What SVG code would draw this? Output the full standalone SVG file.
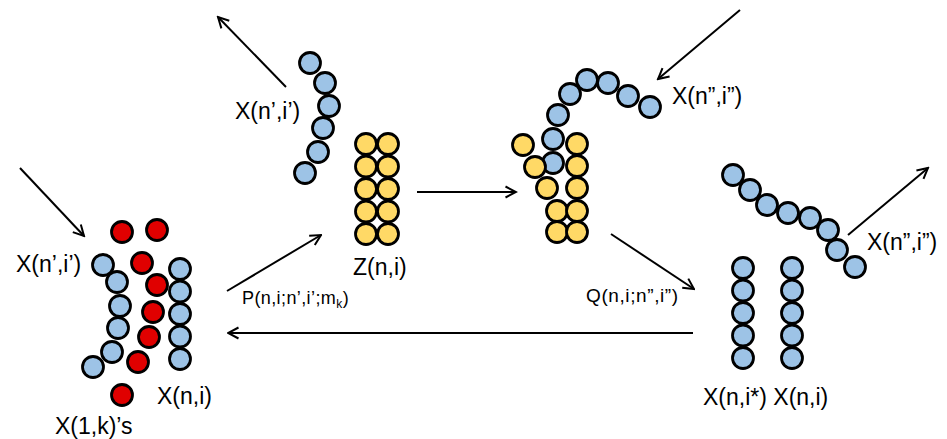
<svg xmlns="http://www.w3.org/2000/svg" width="947" height="439" viewBox="0 0 947 439">
<style>
.b{fill:#9DC3E6;stroke:#000;stroke-width:2.8}
.r{fill:#E00000;stroke:#000;stroke-width:2.8}
.y{fill:#FFD966;stroke:#000;stroke-width:2.8}
.t{font-family:"Liberation Sans",Arial,sans-serif;font-size:23px;fill:#000}
.s{font-family:"Liberation Sans",Arial,sans-serif;font-size:18px;fill:#000;letter-spacing:0.4px}
.c{stroke:#000;stroke-width:2;fill:none;marker-end:url(#ah)}
</style>
<defs>
<marker id="ah" markerUnits="userSpaceOnUse" viewBox="0 0 14 14" refX="12.5" refY="7" markerWidth="14" markerHeight="14" orient="auto">
<path d="M2,1.5 L12.5,7 L2,12.5" fill="none" stroke="#000" stroke-width="2"/>
</marker>
</defs>
<rect width="947" height="439" fill="#fff"/>
<g id="connectors">
<line class="c" x1="20" y1="168" x2="84" y2="236"/>
<line class="c" x1="286" y1="87" x2="218" y2="17"/>
<line class="c" x1="227" y1="291" x2="321" y2="235"/>
<line class="c" x1="417" y1="192" x2="516" y2="192"/>
<line class="c" x1="740" y1="10" x2="658" y2="79"/>
<line class="c" x1="611" y1="234" x2="694" y2="289"/>
<line class="c" x1="848" y1="235" x2="928" y2="168"/>
<line class="c" x1="693" y1="333" x2="228" y2="333"/>
</g>
<g id="node-left">
<circle class="r" cx="122" cy="232" r="10.5"/>
<circle class="r" cx="157" cy="230" r="10.5"/>
<circle class="r" cx="142" cy="263" r="10.5"/>
<circle class="r" cx="157" cy="285" r="10.5"/>
<circle class="r" cx="153" cy="312" r="10.5"/>
<circle class="r" cx="149" cy="337" r="10.5"/>
<circle class="r" cx="138" cy="362" r="10.5"/>
<circle class="r" cx="122" cy="395" r="10.5"/>
<circle class="b" cx="93" cy="367" r="10.5"/>
<circle class="b" cx="112" cy="352" r="10.5"/>
<circle class="b" cx="118" cy="328" r="10.5"/>
<circle class="b" cx="120" cy="306" r="10.5"/>
<circle class="b" cx="117" cy="282" r="10.5"/>
<circle class="b" cx="103" cy="265" r="10.5"/>
<circle class="b" cx="180" cy="269" r="10.5"/>
<circle class="b" cx="180" cy="291.5" r="10.5"/>
<circle class="b" cx="180" cy="314" r="10.5"/>
<circle class="b" cx="180" cy="336.5" r="10.5"/>
<circle class="b" cx="180" cy="359" r="10.5"/>
<text class="t" x="16" y="272">X(n’,i’)</text>
<text class="t" x="157" y="404">X(n,i)</text>
<text class="t" x="55" y="434">X(1,k)’s</text>
<text class="s" x="242" y="304">P(n,i;n’,i’;m<tspan font-size="12" dy="4">k</tspan><tspan dy="-4">)</tspan></text>
</g>
<g id="node-top-left">
<circle class="b" cx="305" cy="173" r="10.5"/>
<circle class="b" cx="318" cy="152" r="10.5"/>
<circle class="b" cx="323" cy="128" r="10.5"/>
<circle class="b" cx="329" cy="106" r="10.5"/>
<circle class="b" cx="325" cy="83" r="10.5"/>
<circle class="b" cx="310" cy="63" r="10.5"/>
<text class="t" x="235" y="119">X(n’,i’)</text>
</g>
<g id="node-z">
<circle class="y" cx="366" cy="144" r="10.5"/>
<circle class="y" cx="388" cy="144" r="10.5"/>
<circle class="y" cx="366" cy="166.5" r="10.5"/>
<circle class="y" cx="388" cy="166.5" r="10.5"/>
<circle class="y" cx="366" cy="189" r="10.5"/>
<circle class="y" cx="388" cy="189" r="10.5"/>
<circle class="y" cx="366" cy="211.5" r="10.5"/>
<circle class="y" cx="388" cy="211.5" r="10.5"/>
<circle class="y" cx="366" cy="234" r="10.5"/>
<circle class="y" cx="388" cy="234" r="10.5"/>
<text class="t" x="353" y="275">Z(n,i)</text>
</g>
<g id="node-top-right">
<circle class="b" cx="650" cy="107" r="10.5"/>
<circle class="b" cx="628" cy="96" r="10.5"/>
<circle class="b" cx="608" cy="83" r="10.5"/>
<circle class="b" cx="587" cy="80" r="10.5"/>
<circle class="b" cx="570" cy="94" r="10.5"/>
<circle class="b" cx="558" cy="115" r="10.5"/>
<circle class="b" cx="553" cy="139" r="10.5"/>
<circle class="b" cx="553" cy="163" r="10.5"/>
<circle class="y" cx="523" cy="145" r="10.5"/>
<circle class="y" cx="535" cy="167" r="10.5"/>
<circle class="y" cx="547" cy="188" r="10.5"/>
<circle class="y" cx="557" cy="211" r="10.5"/>
<circle class="y" cx="557" cy="232" r="10.5"/>
<circle class="y" cx="577" cy="144" r="10.5"/>
<circle class="y" cx="577" cy="166" r="10.5"/>
<circle class="y" cx="577" cy="188" r="10.5"/>
<circle class="y" cx="577" cy="211" r="10.5"/>
<circle class="y" cx="577" cy="232" r="10.5"/>
<text class="t" x="672" y="104">X(n”,i”)</text>
<text class="s" x="586" y="302" style="font-size:19px;letter-spacing:0.6px">Q(n,i;n”,i”)</text>
</g>
<g id="node-right-chain">
<circle class="b" cx="733" cy="175" r="10.5"/>
<circle class="b" cx="750" cy="190" r="10.5"/>
<circle class="b" cx="767" cy="205" r="10.5"/>
<circle class="b" cx="788" cy="213" r="10.5"/>
<circle class="b" cx="810" cy="218" r="10.5"/>
<circle class="b" cx="828" cy="230" r="10.5"/>
<circle class="b" cx="837" cy="250" r="10.5"/>
<circle class="b" cx="855" cy="267" r="10.5"/>
<text class="t" x="867" y="250">X(n”,i”)</text>
</g>
<g id="node-right-columns">
<circle class="b" cx="743" cy="268" r="10.5"/>
<circle class="b" cx="743" cy="290.5" r="10.5"/>
<circle class="b" cx="743" cy="313" r="10.5"/>
<circle class="b" cx="743" cy="335.5" r="10.5"/>
<circle class="b" cx="743" cy="358" r="10.5"/>
<circle class="b" cx="792" cy="268" r="10.5"/>
<circle class="b" cx="792" cy="290.5" r="10.5"/>
<circle class="b" cx="792" cy="313" r="10.5"/>
<circle class="b" cx="792" cy="335.5" r="10.5"/>
<circle class="b" cx="792" cy="358" r="10.5"/>
<text class="t" x="703" y="405">X(n,i*) X(n,i)</text>
</g>
</svg>
